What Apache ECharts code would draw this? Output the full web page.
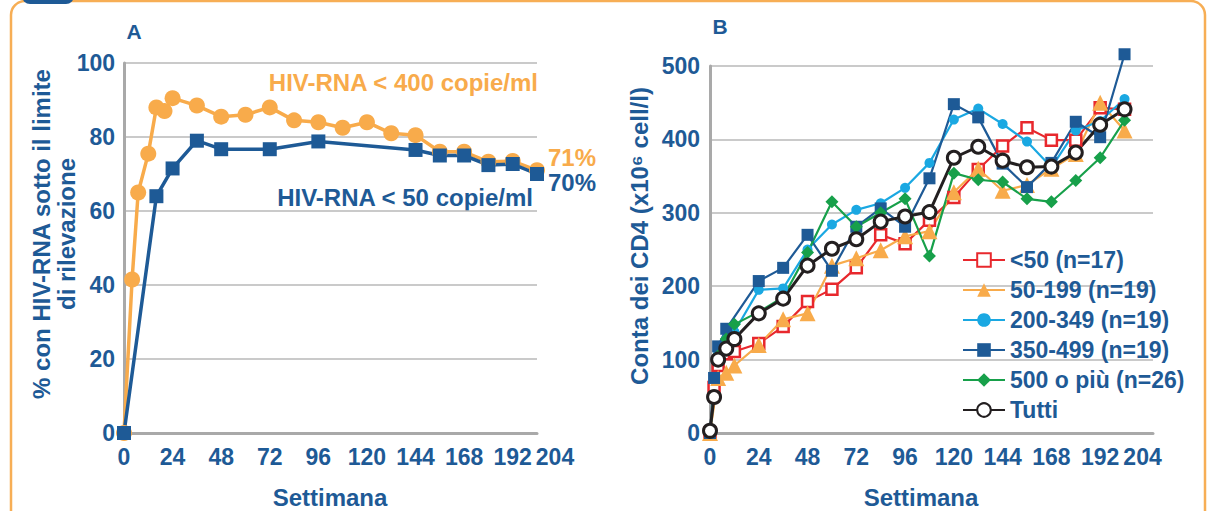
<!DOCTYPE html>
<html>
<head>
<meta charset="utf-8">
<script src="https://cdn.jsdelivr.net/npm/echarts@6/dist/echarts.min.js"></script>
<style>
  html, body { margin: 0; padding: 0; background: #ffffff; }
  #chart { width: 1210px; height: 511px; }
</style>
</head>
<body>
<div id="chart"></div>
<script>
// ---- Panel A: % of patients below detection limit, by week ----
const weeksRna400 = [0, 4, 7, 12, 16, 20, 24, 36, 48, 60, 72, 84, 96, 108, 120, 132, 144, 156, 168, 180, 192, 204];
const pctRna400   = [0, 41.5, 65, 75.5, 88, 87, 90.5, 88.5, 85.5, 86, 88, 84.5, 84, 82.5, 84, 81, 80.5, 76, 76, 73.3, 73.5, 71];
const weeksRna50  = [0, 16, 24, 36, 48, 72, 96, 144, 156, 168, 180, 192, 204];
const pctRna50    = [0, 64, 71.5, 79, 76.7, 76.7, 78.8, 76.5, 75, 75, 72.4, 72.7, 70];

// ---- Panel B: CD4 count by baseline stratum ----
const weeksCd4 = [0, 2, 4, 8, 12, 24, 36, 48, 60, 72, 84, 96, 108, 120, 132, 144, 156, 168, 180, 192, 204];
const cd4Lt50    = [0, 62, 92, 108, 111, 122, 145, 179, 196, 225, 270, 258, 290, 321, 359, 391, 416, 399, 399, 443, 441];
const cd4_50_199 = [0, null, 75, 82, 92, 120, 155, 163, 228, 238, 249, 268, 275, 328, 360, 330, 338, 360, 380, 450, 412];
const cd4_200_349 = [0, null, 108, 128, 138, 195, 197, 250, 284, 304, 313, 334, 368, 427, 442, 421, 397, 362, 412, 425, 455];
const cd4_350_499 = [0, 75, 118, 142, null, 207, 225, 270, 221, 281, 306, 281, 347, 448, 430, 367, 335, 368, 424, 403, 516];
const cd4Ge500   = [3, null, 105, 128, 148, 165, 185, 246, 315, 281, 300, 319, 241, 354, 345, 342, 319, 315, 344, 375, 426];
const cd4All     = [3, 49, 100, 115, 128, 163, 183, 228, 251, 264, 288, 295, 301, 375, 390, 371, 362, 363, 382, 420, 441];

const seriesNamesB = ['<50 (n=17)', '50-199 (n=19)', '200-349 (n=19)', '350-499 (n=19)', '500 o più (n=26)', 'Tutti'];

const FONT = '"Liberation Sans", Arial, Helvetica, sans-serif';
const NAVY = '#1e5a96';
const ORANGE = '#f8ab4b';
const FRAME = '#f7ae55';
const GRID_GRAY = '#b8b8b8';
const AXIS_GRAY = '#a9a9a9';

const pairs = (xs, ys) => xs.map((x, i) => [x, ys[i]]);

const xLabel = (v) => {
  if (v === 204) return '{last|204}';
  return v % 24 === 0 && v <= 192 ? String(v) : '';
};
const labelFont = { fontFamily: FONT, fontSize: 23, fontWeight: 'bold', color: NAVY };

function xAxisFor(gridIndex, max) {
  return {
    type: 'value', gridIndex, min: 0, max, interval: 12,
    axisLine: { show: true, lineStyle: { color: AXIS_GRAY, width: 3 } },
    axisTick: { show: false },
    splitLine: { show: false },
    axisLabel: Object.assign({
      margin: 12, hideOverlap: false, formatter: xLabel,
      rich: { last: Object.assign({ padding: [0, 0, 0, 36] }, labelFont) }
    }, labelFont)
  };
}
function yAxisFor(gridIndex, max, interval, margin) {
  return {
    type: 'value', gridIndex, min: 0, max, interval,
    axisLine: { show: true, lineStyle: { color: AXIS_GRAY, width: 3 } },
    axisTick: { show: false },
    splitLine: { show: true, lineStyle: { color: GRID_GRAY, width: 1.5 } },
    axisLabel: Object.assign({ margin }, labelFont)
  };
}

function textEl(text, x, y, opts) {
  return Object.assign({
    type: 'text', x, y, silent: true,
    style: Object.assign({
      text, fontFamily: FONT, fontSize: 24, fontWeight: 'bold', fill: NAVY,
      align: 'center', verticalAlign: 'middle',
      textAlign: 'center', textVerticalAlign: 'middle'
    }, opts && opts.style)
  }, opts && opts.el);
}

const bLine = (name, ys, color, symbol, symbolSize, extra) => Object.assign({
  name, type: 'line', xAxisIndex: 1, yAxisIndex: 1,
  data: pairs(weeksCd4, ys), connectNulls: true, clip: false,
  symbol, symbolSize, showAllSymbol: true,
  lineStyle: { color, width: 2.2 },
  itemStyle: { color, borderColor: color, borderWidth: 0, opacity: 1 },
  emphasis: { disabled: true }
}, extra);

const option = {
  animation: false,
  backgroundColor: '#ffffff',
  textStyle: { fontFamily: FONT },
  grid: [
    { left: 124, top: 63, width: 413, height: 370, containLabel: false, outerBoundsMode: 'none' },
    { left: 710, top: 66, width: 443, height: 367, containLabel: false, outerBoundsMode: 'none' }
  ],
  xAxis: [xAxisFor(0, 204), xAxisFor(1, 218)],
  yAxis: [yAxisFor(0, 100, 20, 9), yAxisFor(1, 500, 100, 10)],
  legend: {
    data: seriesNamesB,
    orient: 'vertical', left: 957, top: 243,
    itemWidth: 42, itemHeight: 17, itemGap: 6,
    selectedMode: false,
    textStyle: { fontFamily: FONT, fontSize: 23, fontWeight: 'bold', color: NAVY, lineHeight: 24 }
  },
  series: [
    {
      name: 'HIV-RNA < 400 copie/ml', type: 'line', xAxisIndex: 0, yAxisIndex: 0,
      data: pairs(weeksRna400, pctRna400),
      symbol: 'circle', symbolSize: 16, showAllSymbol: true,
      lineStyle: { color: ORANGE, width: 3.5 }, itemStyle: { color: ORANGE },
      endLabel: {
        show: true, formatter: (p) => p.value[1] + '%', distance: 11, offset: [0, -13],
        fontFamily: FONT, fontSize: 24, fontWeight: 'bold', color: ORANGE
      },
      emphasis: { disabled: true }
    },
    {
      name: 'HIV-RNA < 50 copie/ml', type: 'line', xAxisIndex: 0, yAxisIndex: 0,
      data: pairs(weeksRna50, pctRna50),
      symbol: 'rect', symbolSize: 14, showAllSymbol: true,
      lineStyle: { color: NAVY, width: 3.5 }, itemStyle: { color: NAVY },
      endLabel: {
        show: true, formatter: (p) => p.value[1] + '%', distance: 11, offset: [0, 8],
        fontFamily: FONT, fontSize: 24, fontWeight: 'bold', color: NAVY
      },
      emphasis: { disabled: true }
    },
    bLine(seriesNamesB[0], cd4Lt50, '#e8282d', 'rect', 11,
      { itemStyle: { color: '#ffffff', borderColor: '#e8282d', borderWidth: 2.5 } }),
    bLine(seriesNamesB[1], cd4_50_199, ORANGE, 'triangle', 16),
    bLine(seriesNamesB[2], cd4_200_349, '#1aa8e2', 'circle', 10),
    bLine(seriesNamesB[3], cd4_350_499, NAVY, 'rect', 12),
    bLine(seriesNamesB[4], cd4Ge500, '#17a04a', 'diamond', 13),
    bLine(seriesNamesB[5], cd4All, '#231f20', 'circle', 13,
      { lineStyle: { color: '#231f20', width: 3 },
        itemStyle: { color: '#ffffff', borderColor: '#231f20', borderWidth: 3 } })
  ],
  graphic: [
    // outer frame and header tab
    { type: 'rect', silent: true, shape: { x: 11, y: 1, width: 1194, height: 560, r: 14 },
      style: { fill: 'none', stroke: FRAME, lineWidth: 2.5 } },
    { type: 'rect', silent: true, shape: { x: 22, y: -20, width: 52, height: 24, r: 8 },
      style: { fill: NAVY } },
    // panel letters
    textEl('A', 134, 31, { style: { fontSize: 21 } }),
    textEl('B', 720, 26, { style: { fontSize: 21 } }),
    // series captions in panel A
    textEl('HIV-RNA < 400 copie/ml', 538, 82, { style: { fill: ORANGE, align: 'right', textAlign: 'right' } }),
    textEl('HIV-RNA < 50 copie/ml', 533, 197, { style: { align: 'right', textAlign: 'right' } }),
    // axis titles
    textEl('% con HIV-RNA sotto il limite\ndi rilevazione', 53.5, 234,
      { el: { rotation: Math.PI / 2 }, style: { lineHeight: 25 } }),
    textEl('Conta dei CD4 (x10\u2076 cell/l)', 639, 236, { el: { rotation: Math.PI / 2 } }),
    textEl('Settimana', 330, 497),
    textEl('Settimana', 921, 497)
  ]
};

const chart = echarts.init(document.getElementById('chart'), null, { renderer: 'svg', width: 1210, height: 511 });
chart.setOption(option);
</script>
</body>
</html>
